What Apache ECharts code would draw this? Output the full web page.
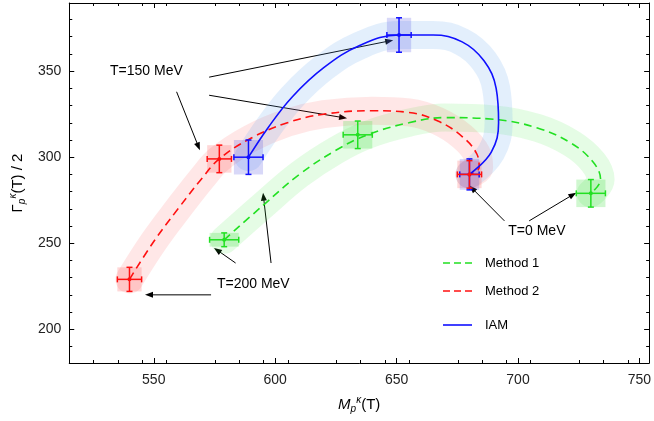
<!DOCTYPE html><html><head><meta charset="utf-8"><script src="https://cdn.jsdelivr.net/npm/echarts@6/dist/echarts.min.js"></script>
<style>html,body{margin:0;background:#fff}#c{width:654px;height:421px}</style></head><body><div id="c"></div><script>
const xTicks=[550,600,650,700,750];
const yTicks=[200,250,300,350];
const method1Curve=[[579,252],[595,272],[610,290],[625,304],[638,313],[655,320],[670,323],[690,322],[708,317],[722,308],[731,297],[734,287],[730,279]];
const method2Curve=[[540,229],[550,251],[560,270],[570,288],[577,299],[590,311],[605,320],[620,325],[640,327],[655,326],[667,321],[677,312],[683,302],[684,294],[680,290]];
const iamCurve=[[589,300],[597,317],[607,335],[620,352],[635,365],[651,371],[665,371],[677,367],[686,356],[691,340],[692,320],[689,303],[680,290]];
// [x, y, xErr, yErr]
const method1Pts=[[579,252,6,4],[634,313,6,8],[730,279,6,8]];
const method2Pts=[[540,229,5,7],[577,299,5,8],[680,290,5,8]];
const iamPts=[[589,300,6,10],[651,371,5,10],[680,290,4,9]];
const G='#22e022',R='#ff1010',B='#1010ff';
const chart=echarts.init(document.getElementById('c'));
function band(d,c,w){return{type:'line',data:d,smooth:0.4,showSymbol:false,silent:true,lineStyle:{color:c,width:w,cap:'round',join:'round'},z:1};}
function curve(d,c,dash){return{type:'line',data:d,smooth:0.4,showSymbol:false,lineStyle:{color:c,width:1.6,type:dash?[8,5]:'solid'},z:4};}
function boxes(d,c){return{type:'custom',data:d,z:2,renderItem:(p,api)=>{const a=api.coord([api.value(0)-api.value(2),api.value(1)+api.value(3)]);const b=api.coord([api.value(0)+api.value(2),api.value(1)-api.value(3)]);return{type:'rect',shape:{x:a[0],y:a[1],width:b[0]-a[0],height:b[1]-a[1]},style:{fill:c}};}};}
function errs(d,c){return{type:'custom',data:d,z:6,renderItem:(p,api)=>{const x=api.value(0),y=api.value(1),ex=api.value(2),ey=api.value(3);const l=api.coord([x-ex,y]),r=api.coord([x+ex,y]),t=api.coord([x,y+ey]),bt=api.coord([x,y-ey]),ctr=api.coord([x,y]);const st={stroke:c,lineWidth:1.5};return{type:'group',children:[
{type:'line',shape:{x1:l[0],y1:l[1],x2:r[0],y2:r[1]},style:st},{type:'line',shape:{x1:t[0],y1:t[1],x2:bt[0],y2:bt[1]},style:st},
{type:'line',shape:{x1:l[0],y1:l[1]-3,x2:l[0],y2:l[1]+3},style:st},{type:'line',shape:{x1:r[0],y1:r[1]-3,x2:r[0],y2:r[1]+3},style:st},
{type:'line',shape:{x1:t[0]-3,y1:t[1],x2:t[0]+3,y2:t[1]},style:st},{type:'line',shape:{x1:bt[0]-3,y1:bt[1],x2:bt[0]+3,y2:bt[1]},style:st},
{type:'circle',shape:{cx:ctr[0],cy:ctr[1],r:2},style:{fill:c}}]};}};}
const ax={min:515.2,max:754,interval:50};
const tk={inside:true,length:5,lineStyle:{color:'#000'}};
const mt={show:true,splitNumber:5,length:3,lineStyle:{color:'#000'}};
chart.setOption({animation:false,
grid:{left:63,right:2,top:3,bottom:58},
xAxis:[{type:'value',...ax,axisLine:{lineStyle:{color:'#000'}},minorTick:mt,splitLine:{show:false},
 axisLabel:{color:'#222',fontFamily:'Liberation Sans',fontSize:14,margin:10,customValues:xTicks},axisTick:{...tk,customValues:xTicks},
 name:'{i|M}{s|p}{k|κ}{n|(T)}',nameLocation:'middle',nameGap:32,nameTextStyle:{rich:{i:{fontStyle:'italic',fontSize:15,fontFamily:'Liberation Sans'},s:{fontStyle:'italic',fontSize:10,verticalAlign:'bottom',padding:[9,0,0,0]},k:{fontStyle:'italic',fontSize:10,verticalAlign:'top',padding:[0,0,9,0]},n:{fontSize:15,fontFamily:'Liberation Sans'}}}},
 {type:'value',...ax,position:'top',axisLine:{lineStyle:{color:'#000'}},axisLabel:{show:false},axisTick:{...tk,customValues:xTicks},minorTick:mt,splitLine:{show:false}}],
yAxis:[{type:'value',min:180.4,max:389.6,axisLine:{show:true,lineStyle:{color:'#000'}},axisTick:{...tk,customValues:yTicks},minorTick:mt,splitLine:{show:false},
 axisLabel:{color:'#222',fontFamily:'Liberation Sans',fontSize:14,customValues:yTicks},
 name:'{n|Γ}{s|p}{k|κ}{n|(T) / 2}',nameLocation:'middle',nameGap:42,nameTextStyle:{rich:{n:{fontSize:15,fontFamily:'Liberation Sans'},s:{fontStyle:'italic',fontSize:10,verticalAlign:'bottom',padding:[9,0,0,0]},k:{fontStyle:'italic',fontSize:10,verticalAlign:'top',padding:[0,0,9,0]}}}},
 {type:'value',min:180.4,max:389.6,position:'right',axisLine:{show:true,lineStyle:{color:'#000'}},axisLabel:{show:false},axisTick:{...tk,customValues:yTicks},minorTick:mt,splitLine:{show:false}}],
series:[band(method1Curve,'rgba(40,230,40,0.12)',28),band(method2Curve,'rgba(255,40,40,0.11)',28),band(iamCurve,'rgba(90,160,240,0.17)',28),
boxes(method1Pts,'rgba(40,220,40,0.22)'),boxes(method2Pts,'rgba(255,60,60,0.2)'),boxes(iamPts,'rgba(60,60,220,0.2)'),
curve(method1Curve,G,true),curve(method2Curve,R,true),curve(iamCurve,B,false),
errs(method1Pts,G),errs(iamPts,B),errs(method2Pts,R)]});
const arrows=[[559.4,338,569,304],[572.8,346.5,648.6,368],[572.8,336,629.6,322.6],[583.7,238.5,574.8,247.3],[598.3,238.5,595,279.4],[573.6,220,546.4,220],[694.4,263,680,283.5],[704.6,263,724,279.4]];
const labels=[['T=150 MeV',532,350],['T=200 MeV',576,226],['T=0 MeV',696,257]];
const P=v=>chart.convertToPixel({xAxisIndex:0,yAxisIndex:0},v);
const gr=[];
arrows.forEach(a=>{const t=P([a[0],a[1]]),h=P([a[2],a[3]]);const ang=Math.atan2(h[1]-t[1],h[0]-t[0]);const L=8,W=3;
 gr.push({type:'line',shape:{x1:t[0],y1:t[1],x2:h[0]-Math.cos(ang)*L*0.8,y2:h[1]-Math.sin(ang)*L*0.8},style:{stroke:'#000',lineWidth:1}});
 gr.push({type:'polygon',shape:{points:[h,[h[0]-L*Math.cos(ang)+W*Math.sin(ang),h[1]-L*Math.sin(ang)-W*Math.cos(ang)],[h[0]-L*Math.cos(ang)-W*Math.sin(ang),h[1]-L*Math.sin(ang)+W*Math.cos(ang)]]},style:{fill:'#000'}});});
labels.forEach(l=>{const p=P([l[1],l[2]]);gr.push({type:'text',x:p[0],y:p[1],style:{text:l[0],fill:'#000',font:'14px Liberation Sans',textVerticalAlign:'middle'}});});
[['Method 1',G,true,263],['Method 2',R,true,291],['IAM',B,false,325]].forEach(e=>{gr.push({type:'line',shape:{x1:443,y1:e[3],x2:472,y2:e[3]},style:{stroke:e[1],lineWidth:1.6,lineDash:e[2]?[7,4]:null}});gr.push({type:'text',x:485,y:e[3],style:{text:e[0],fill:'#000',font:'13px Liberation Sans',textVerticalAlign:'middle'}});});
chart.setOption({graphic:gr});
</script></body></html>
